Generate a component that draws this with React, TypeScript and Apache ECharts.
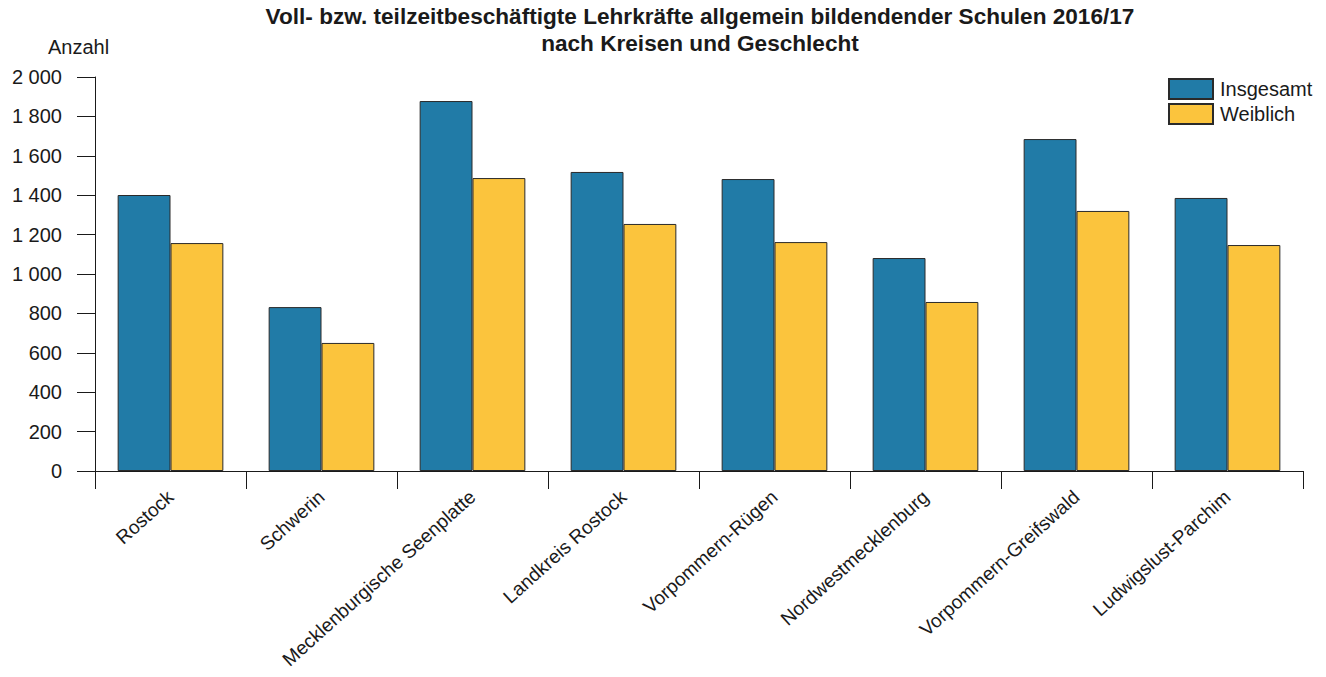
import React, { useEffect, useRef } from "react";
import * as echarts from "echarts";

const categories = [
  "Rostock",
  "Schwerin",
  "Mecklenburgische Seenplatte",
  "Landkreis Rostock",
  "Vorpommern-Rügen",
  "Nordwestmecklenburg",
  "Vorpommern-Greifswald",
  "Ludwigslust-Parchim",
];
const insgesamt = [1401, 832, 1878, 1518, 1482, 1081, 1685, 1386];
const weiblich = [1157, 650, 1487, 1254, 1162, 858, 1320, 1147];
const titleLines = [
  "Voll- bzw. teilzeitbeschäftigte Lehrkräfte allgemein bildendender Schulen 2016/17",
  "nach Kreisen und Geschlecht",
];
const yLabel = "Anzahl";

const FONT = "'Liberation Sans', Arial, sans-serif";

export default function App() {
  const ref = useRef<HTMLDivElement>(null);
  useEffect(() => {
    if (!ref.current) return;
    const chart = echarts.init(ref.current, null, { renderer: "svg" });
    chart.setOption({
      animation: false,
      backgroundColor: "#ffffff",
      textStyle: { fontFamily: FONT },
      title: {
        text: titleLines.join("\n"),
        left: 700,
        textAlign: "center",
        top: 3,
        padding: 0,
        textStyle: {
          fontFamily: FONT,
          fontSize: 22.6,
          fontWeight: "bold",
          color: "#1a1a1a",
          lineHeight: 27,
        },
      },
      legend: {
        orient: "vertical",
        left: 1163,
        top: 73,
        itemWidth: 44,
        itemHeight: 20,
        itemGap: 3,
        icon: "rect",
        textStyle: { fontFamily: FONT, fontSize: 20, color: "#1a1a1a", padding: [0, 0, 0, 2] },
        data: ["Insgesamt", "Weiblich"],
      },
      graphic: [
        {
          type: "text",
          left: 48,
          top: 37,
          style: { text: yLabel, fontFamily: FONT, fontSize: 20, fill: "#1a1a1a" },
        },
      ],
      grid: {
        left: 95,
        right: 23,
        top: 77,
        bottom: 206,
        containLabel: false,
        outerBoundsMode: "none",
      },
      xAxis: {
        type: "category",
        data: categories,
        axisLine: { show: true, lineStyle: { color: "#1a1a1a", width: 1 } },
        axisTick: { show: true, length: 18, lineStyle: { color: "#1a1a1a" } },
        axisLabel: {
          rotate: 42,
          interval: 0,
          margin: 23,
          fontFamily: FONT,
          fontSize: 19.2,
          color: "#1a1a1a",
        },
      },
      yAxis: {
        type: "value",
        min: 0,
        max: 2000,
        interval: 200,
        splitLine: { show: false },
        axisLine: { show: true, lineStyle: { color: "#1a1a1a", width: 1 } },
        axisTick: { show: true, length: 18, lineStyle: { color: "#1a1a1a" } },
        axisLabel: {
          margin: 33,
          fontFamily: FONT,
          fontSize: 20,
          color: "#1a1a1a",
          formatter: (v: number) => String(v).replace(/\B(?=(\d{3})+(?!\d))/g, " "),
        },
      },
      series: [
        {
          name: "Insgesamt",
          type: "bar",
          data: insgesamt,
          barGap: "0%",
          barCategoryGap: "30%",
          itemStyle: { color: "#217ba7", borderColor: "#2a2a2a", borderWidth: 1 },
        },
        {
          name: "Weiblich",
          type: "bar",
          data: weiblich,
          barGap: "0%",
          barCategoryGap: "30%",
          itemStyle: { color: "#fbc43d", borderColor: "#2a2a2a", borderWidth: 1 },
        },
      ],
    });
    return () => chart.dispose();
  }, []);
  return (
    <div
      ref={ref}
      style={{ position: "fixed", left: 0, top: 0, width: 1326, height: 677, background: "#fff" }}
    />
  );
}
